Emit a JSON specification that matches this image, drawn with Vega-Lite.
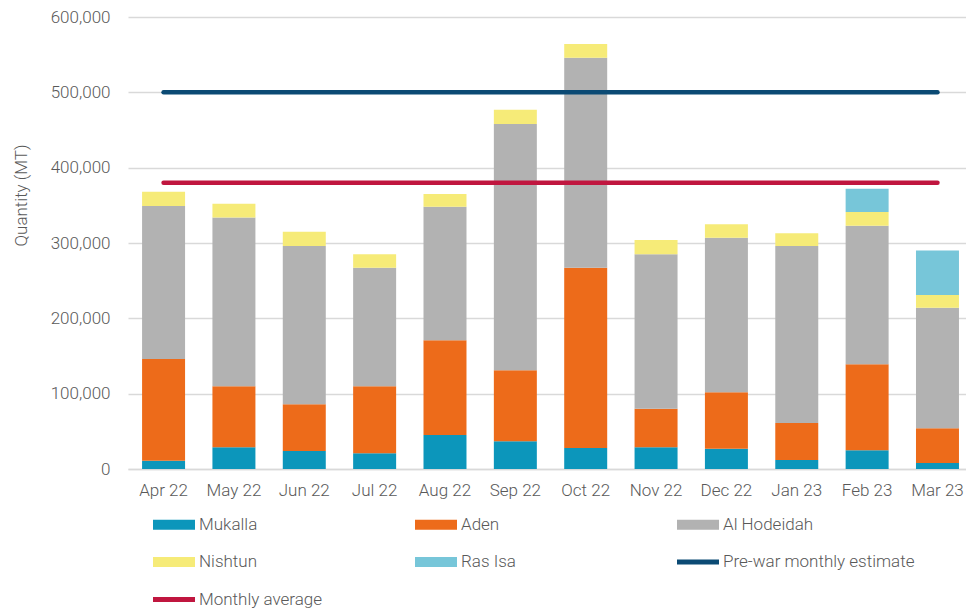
{
  "$schema": "https://vega.github.io/schema/vega-lite/v6.json",
  "width": 838,
  "height": 452,
  "autosize": {"type": "none"},
  "padding": {"left": 128, "top": 17, "right": 0, "bottom": 140},
  "background": "white",
  "config": {
    "view": {"stroke": null},
    "font": "Roboto"
  },
  "datasets": {
    "bars": [
      {"month": "Apr 22", "port": "Mukalla", "value": 11000},
      {"month": "Apr 22", "port": "Aden", "value": 135000},
      {"month": "Apr 22", "port": "Al Hodeidah", "value": 203000},
      {"month": "Apr 22", "port": "Nishtun", "value": 19000},
      {"month": "May 22", "port": "Mukalla", "value": 29000},
      {"month": "May 22", "port": "Aden", "value": 81000},
      {"month": "May 22", "port": "Al Hodeidah", "value": 224000},
      {"month": "May 22", "port": "Nishtun", "value": 18000},
      {"month": "Jun 22", "port": "Mukalla", "value": 24000},
      {"month": "Jun 22", "port": "Aden", "value": 62000},
      {"month": "Jun 22", "port": "Al Hodeidah", "value": 210000},
      {"month": "Jun 22", "port": "Nishtun", "value": 19000},
      {"month": "Jul 22", "port": "Mukalla", "value": 21000},
      {"month": "Jul 22", "port": "Aden", "value": 89000},
      {"month": "Jul 22", "port": "Al Hodeidah", "value": 157000},
      {"month": "Jul 22", "port": "Nishtun", "value": 18000},
      {"month": "Aug 22", "port": "Mukalla", "value": 45000},
      {"month": "Aug 22", "port": "Aden", "value": 126000},
      {"month": "Aug 22", "port": "Al Hodeidah", "value": 177000},
      {"month": "Aug 22", "port": "Nishtun", "value": 17000},
      {"month": "Sep 22", "port": "Mukalla", "value": 37000},
      {"month": "Sep 22", "port": "Aden", "value": 94000},
      {"month": "Sep 22", "port": "Al Hodeidah", "value": 327000},
      {"month": "Sep 22", "port": "Nishtun", "value": 19000},
      {"month": "Oct 22", "port": "Mukalla", "value": 28000},
      {"month": "Oct 22", "port": "Aden", "value": 239000},
      {"month": "Oct 22", "port": "Al Hodeidah", "value": 279000},
      {"month": "Oct 22", "port": "Nishtun", "value": 18000},
      {"month": "Nov 22", "port": "Mukalla", "value": 29000},
      {"month": "Nov 22", "port": "Aden", "value": 51000},
      {"month": "Nov 22", "port": "Al Hodeidah", "value": 205000},
      {"month": "Nov 22", "port": "Nishtun", "value": 19000},
      {"month": "Dec 22", "port": "Mukalla", "value": 27000},
      {"month": "Dec 22", "port": "Aden", "value": 75000},
      {"month": "Dec 22", "port": "Al Hodeidah", "value": 205000},
      {"month": "Dec 22", "port": "Nishtun", "value": 18000},
      {"month": "Jan 23", "port": "Mukalla", "value": 12000},
      {"month": "Jan 23", "port": "Aden", "value": 49000},
      {"month": "Jan 23", "port": "Al Hodeidah", "value": 235000},
      {"month": "Jan 23", "port": "Nishtun", "value": 17000},
      {"month": "Feb 23", "port": "Mukalla", "value": 25000},
      {"month": "Feb 23", "port": "Aden", "value": 114000},
      {"month": "Feb 23", "port": "Al Hodeidah", "value": 184000},
      {"month": "Feb 23", "port": "Nishtun", "value": 18000},
      {"month": "Feb 23", "port": "Ras Isa", "value": 31000},
      {"month": "Mar 23", "port": "Mukalla", "value": 8000},
      {"month": "Mar 23", "port": "Aden", "value": 46000},
      {"month": "Mar 23", "port": "Al Hodeidah", "value": 160000},
      {"month": "Mar 23", "port": "Nishtun", "value": 17000},
      {"month": "Mar 23", "port": "Ras Isa", "value": 59000}
    ],
    "lines": [
      {"month": "Apr 22", "port": "Pre-war monthly estimate", "value": 500000},
      {"month": "Mar 23", "port": "Pre-war monthly estimate", "value": 500000},
      {"month": "Apr 22", "port": "Monthly average", "value": 380000},
      {"month": "Mar 23", "port": "Monthly average", "value": 380000}
    ]
  },
  "layer": [
    {
      "data": {"name": "bars"},
      "mark": {"type": "bar"},
      "transform": [
        {"calculate": "indexof(['Mukalla','Aden','Al Hodeidah','Nishtun','Ras Isa'], datum.port)", "as": "ord"}
      ],
      "encoding": {
        "x": {"field": "month", "type": "nominal", "sort": null},
        "y": {"field": "value", "type": "quantitative", "stack": "zero"},
        "color": {"field": "port", "type": "nominal"},
        "order": {"field": "ord", "type": "quantitative", "sort": "ascending"}
      }
    },
    {
      "data": {"name": "lines"},
      "mark": {"type": "line", "strokeWidth": 4.5, "strokeCap": "round"},
      "encoding": {
        "x": {"field": "month", "type": "nominal", "sort": null},
        "y": {"field": "value", "type": "quantitative"},
        "color": {"field": "port", "type": "nominal"}
      }
    }
  ],
  "resolve": {"scale": {"color": "shared"}},
  "encoding": {
    "x": {
      "field": "month", "type": "nominal",
      "sort": ["Apr 22","May 22","Jun 22","Jul 22","Aug 22","Sep 22","Oct 22","Nov 22","Dec 22","Jan 23","Feb 23","Mar 23"],
      "scale": {"paddingInner": 0.389, "paddingOuter": 0.15, "align": 0.667},
      "axis": {"title": null, "labelAngle": 0, "ticks": false, "domain": true, "domainColor": "#d9d9d9", "domainWidth": 1.5, "labelPadding": 13, "labelFont": "Roboto", "labelFontWeight": 300, "labelColor": "#595959", "labelFontSize": 17}
    },
    "y": {
      "type": "quantitative",
      "scale": {"domain": [0, 600000], "nice": false},
      "axis": {"title": "Quantity (MT)", "values": [0,100000,200000,300000,400000,500000,600000], "format": ",d", "ticks": false, "domain": false, "gridColor": "#d9d9d9", "gridWidth": 1.5, "labelPadding": 18, "labelFont": "Roboto", "labelFontWeight": 300, "labelColor": "#595959", "labelFontSize": 17, "titleFont": "Roboto", "titleFontWeight": 300, "titleColor": "#595959", "titleFontSize": 17, "titleX": -98, "titleY": 178, "titleAnchor": "middle"}
    },
    "color": {
      "type": "nominal",
      "scale": {
        "domain": ["Mukalla","Aden","Al Hodeidah","Nishtun","Ras Isa","Pre-war monthly estimate","Monthly average"],
        "range": ["#0c96bb","#ed6b1a","#b2b2b2","#f6eb78","#77c6d9","#0b4a74","#c0163f"]
      },
      "legend": {
        "title": null,
        "orient": "none",
        "legendX": 25,
        "legendY": 497,
        "direction": "horizontal",
        "columns": 3,
        "gridAlign": "all",
        "columnPadding": 24,
        "rowPadding": 18.5,
        "padding": 0,
        "symbolSize": 441,
        "labelOffset": 25,
        "labelLimit": 300,
        "labelFont": "Roboto",
        "labelFontWeight": 300,
        "labelColor": "#595959",
        "labelFontSize": 17,
        "symbolStrokeWidth": 0,
        "encode": {
          "symbols": {
            "update": {
              "shape": {"signal": "indexof(['Pre-war monthly estimate','Monthly average'], datum.value) >= 0 ? 'M-1,-0.24H3V0.24H-1Z' : 'M-1,-0.48H3V0.48H-1Z'"},
              "fill": {"scale": "color", "field": "value"},
              "fillOpacity": {"value": 1},
              "opacity": {"value": 1},
              "strokeWidth": {"value": 0}
            }
          }
        }
      }
    }
  }
}
